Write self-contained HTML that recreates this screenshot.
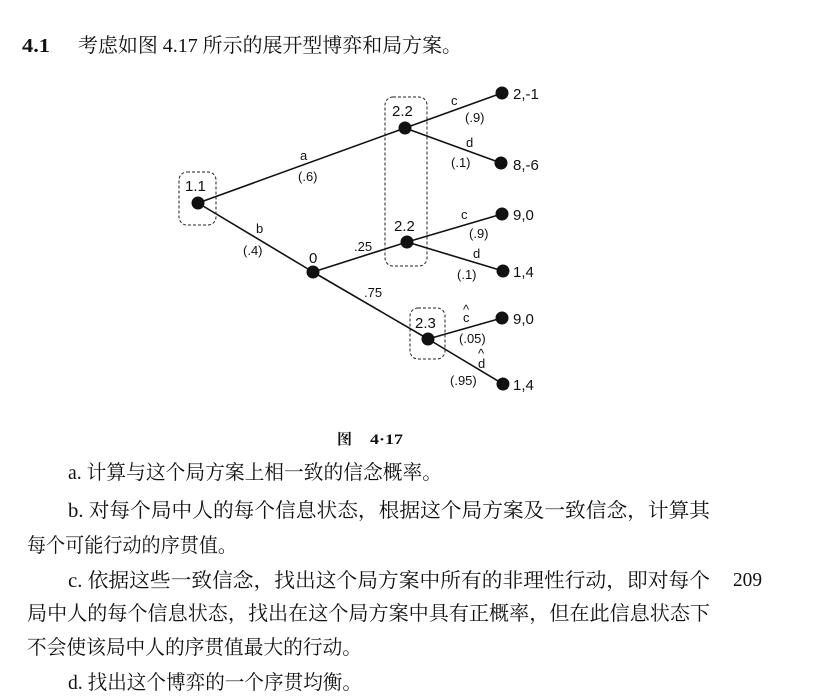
<!DOCTYPE html>
<html><head><meta charset="utf-8"><style>
html,body{margin:0;padding:0;background:#fff;}
svg{display:block}
.t{font-family:"Liberation Serif","Noto Serif CJK SC",serif;font-size:20px;fill:#111}
.g{font-family:"Liberation Sans",sans-serif;font-size:13px;fill:#111}
.p{font-family:"Liberation Sans",sans-serif;font-size:15px;fill:#111}
</style></head><body>
<svg width="813" height="698" viewBox="0 0 813 698" xmlns="http://www.w3.org/2000/svg">
<g class="t">
<text x="22" y="52" font-weight="bold" textLength="28" lengthAdjust="spacingAndGlyphs">4.1</text>
<text x="78" y="52" textLength="384" lengthAdjust="spacingAndGlyphs">考虑如图 4.17 所示的展开型博弈和局方案。</text>
<text x="337" y="444" font-weight="bold" font-size="15">图</text>
<text x="370" y="444" font-weight="bold" font-size="15" textLength="33" lengthAdjust="spacingAndGlyphs">4·17</text>
<text x="68" y="479" textLength="374" lengthAdjust="spacingAndGlyphs">a. 计算与这个局方案上相一致的信念概率。</text>
<text x="68" y="517" textLength="642" lengthAdjust="spacingAndGlyphs">b. 对每个局中人的每个信息状态，根据这个局方案及一致信念，计算其</text>
<text x="27" y="552" textLength="210" lengthAdjust="spacingAndGlyphs">每个可能行动的序贯值。</text>
<text x="68" y="587" textLength="642" lengthAdjust="spacingAndGlyphs">c. 依据这些一致信念，找出这个局方案中所有的非理性行动，即对每个</text>
<text x="733" y="586" textLength="29" lengthAdjust="spacingAndGlyphs">209</text>
<text x="27" y="620" textLength="683" lengthAdjust="spacingAndGlyphs">局中人的每个信息状态，找出在这个局方案中具有正概率，但在此信息状态下</text>
<text x="27" y="654" textLength="335" lengthAdjust="spacingAndGlyphs">不会使该局中人的序贯值最大的行动。</text>
<text x="68" y="689" textLength="294" lengthAdjust="spacingAndGlyphs">d. 找出这个博弈的一个序贯均衡。</text>
</g>
<g stroke="#111" stroke-width="1.6" fill="none">
<line x1="198" y1="203" x2="405" y2="128"/>
<line x1="198" y1="203" x2="313" y2="272"/>
<line x1="313" y1="272" x2="407" y2="242"/>
<line x1="313" y1="272" x2="428" y2="339"/>
<line x1="405" y1="128" x2="502" y2="93"/>
<line x1="405" y1="128" x2="501" y2="163"/>
<line x1="407" y1="242" x2="502" y2="214"/>
<line x1="407" y1="242" x2="503" y2="271"/>
<line x1="428" y1="339" x2="502" y2="318"/>
<line x1="428" y1="339" x2="503" y2="384"/>
</g>
<g stroke="#222" stroke-width="1" fill="none" stroke-dasharray="3,2">
<rect x="179" y="172" width="37" height="53" rx="8"/>
<rect x="385" y="97" width="42" height="169" rx="8"/>
<rect x="410" y="308" width="35" height="51" rx="8"/>
</g>
<g fill="#111">
<circle cx="198" cy="203" r="6.5"/><circle cx="405" cy="128" r="6.5"/><circle cx="313" cy="272" r="6.5"/>
<circle cx="407" cy="242" r="6.5"/><circle cx="428" cy="339" r="6.5"/>
<circle cx="502" cy="93" r="6.5"/><circle cx="501" cy="163" r="6.5"/><circle cx="502" cy="214" r="6.5"/>
<circle cx="503" cy="271" r="6.5"/><circle cx="502" cy="318" r="6.5"/><circle cx="503" cy="384" r="6.5"/>
</g>
<g class="p">
<text x="185" y="191">1.1</text>
<text x="392" y="116">2.2</text>
<text x="394" y="231">2.2</text>
<text x="309" y="263">0</text>
<text x="415" y="328">2.3</text>
<text x="513" y="99">2,-1</text>
<text x="513" y="170">8,-6</text>
<text x="513" y="220">9,0</text>
<text x="513" y="277">1,4</text>
<text x="513" y="324">9,0</text>
<text x="513" y="390">1,4</text>
</g>
<g class="g">
<text x="300" y="160">a</text>
<text x="298" y="181">(.6)</text>
<text x="256" y="233">b</text>
<text x="243" y="255">(.4)</text>
<text x="354" y="251">.25</text>
<text x="364" y="297">.75</text>
<text x="451" y="105">c</text>
<text x="465" y="122">(.9)</text>
<text x="466" y="147">d</text>
<text x="451" y="167">(.1)</text>
<text x="461" y="219">c</text>
<text x="469" y="238">(.9)</text>
<text x="473" y="258">d</text>
<text x="457" y="279">(.1)</text>
<text x="463" y="322">c</text><text x="463" y="314">^</text>
<text x="459" y="343">(.05)</text>
<text x="478" y="368">d</text><text x="478" y="358">^</text>
<text x="450" y="385">(.95)</text>
</g>
</svg>
</body></html>
